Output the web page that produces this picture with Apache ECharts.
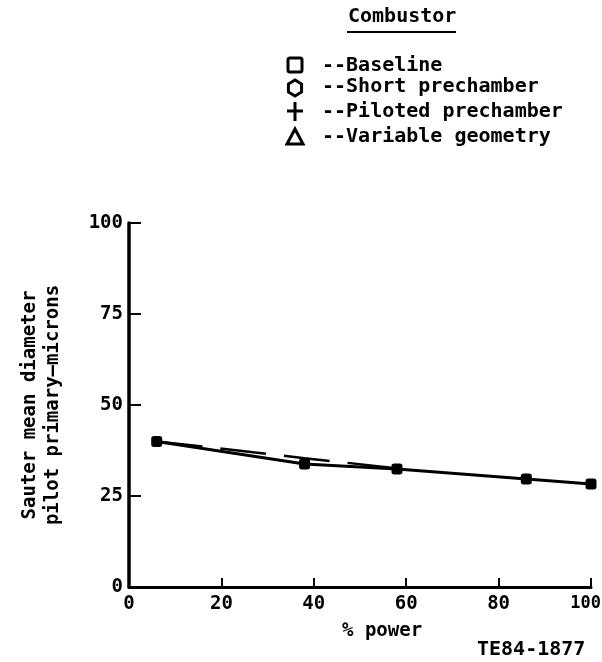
<!DOCTYPE html>
<html>
<head>
<meta charset="utf-8">
<script src="https://cdn.jsdelivr.net/npm/echarts@6/dist/echarts.min.js"></script>
<style>html,body{margin:0;padding:0;background:#fff}#c{width:602px;height:662px}</style>
</head>
<body>
<div id="c"></div>
<script>
// Data
var powerPct = [6, 38, 58, 86, 100];
var baselineSMD = [40, 33.8, 32.4, 29.7, 28.3];
var dashedPower = [6, 38, 58];
var dashedSMD = [40, 35.4, 32.6];
var xTicks = [0, 20, 40, 60, 80, 100];
var yTicks = [0, 25, 50, 75, 100];
var legendNames = ['Baseline', 'Short prechamber', 'Piloted prechamber', 'Variable geometry'];

var FONT = '"DejaVu Sans Mono", monospace';
var chart = echarts.init(document.getElementById('c'));

function pairs(xs, ys) { return xs.map(function (x, i) { return [x, ys[i]]; }); }

var legendRowsY = [68, 89, 114, 139];
var legendGraphics = [];
legendGraphics.push({type:'text', left: 348, top: 7, style:{text:'Combustor', font:'bold 20px ' + FONT, fill:'#000'}});
legendGraphics.push({type:'line', shape:{x1:347, y1:32, x2:456, y2:32}, style:{stroke:'#000', lineWidth:2}});
legendNames.forEach(function (n, i) {
  legendGraphics.push({type:'text', left: 322, top: legendRowsY[i] - 12, style:{text:'--' + n, font:'bold 20px ' + FONT, fill:'#000'}});
});
var cx = 295;
legendGraphics.push({type:'rect', shape:{x:cx-7, y:legendRowsY[0]-10, width:14, height:14, r:2}, style:{fill:'none', stroke:'#000', lineWidth:3}});
(function(){
  var cy = legendRowsY[1] - 1, r = 8, pts = [];
  for (var k = 0; k < 6; k++) { var a = Math.PI/2 + k*Math.PI/3; pts.push([cx + r*Math.cos(a)*0.95, cy + r*Math.sin(a)]); }
  legendGraphics.push({type:'polygon', shape:{points:pts}, style:{fill:'none', stroke:'#000', lineWidth:3}});
})();
legendGraphics.push({type:'line', shape:{x1:cx-8, y1:legendRowsY[2]-3, x2:cx+8, y2:legendRowsY[2]-3}, style:{stroke:'#000', lineWidth:3}});
legendGraphics.push({type:'line', shape:{x1:cx, y1:legendRowsY[2]-12, x2:cx, y2:legendRowsY[2]+7}, style:{stroke:'#000', lineWidth:3}});
legendGraphics.push({type:'polygon', shape:{points:[[cx, legendRowsY[3]-10],[cx+8, legendRowsY[3]+5],[cx-8, legendRowsY[3]+5]]}, style:{fill:'none', stroke:'#000', lineWidth:3}});
legendGraphics.push({type:'text', left: 342, top: 622, style:{text:'% power', font:'bold 19px ' + FONT, fill:'#000'}});
legendGraphics.push({type:'text', left: 477, top: 640, style:{text:'TE84-1877', font:'bold 20px ' + FONT, fill:'#000'}});

chart.setOption({
  backgroundColor: '#fff',
  animation: false,
  grid: {left: 129, right: 11, top: 223, bottom: 75, containLabel: false, outerBoundsMode: 'none'},
  xAxis: {
    type: 'value', min: 0, max: 100, interval: 20,
    axisLine: {show: true, lineStyle: {color: '#000', width: 3}},
    axisTick: {show: true, inside: true, length: 9, lineStyle: {color: '#000', width: 2}},
    splitLine: {show: false},
    alignMaxLabel: 'right',
    axisLabel: {color: '#000', fontFamily: FONT, fontWeight: 'bold', fontSize: 19, margin: 8,
      alignMaxLabel: 'right',
      formatter: function (v) {
        if (xTicks.indexOf(v) < 0) return '';
        return v === 100 ? '{m|' + v + '}' : String(v);
      },
      rich: {m: {fontFamily: FONT, fontWeight: 'bold', fontSize: 17, color: '#000', padding: [0, -10, 0, 0]}}
    }
  },
  yAxis: {
    type: 'value', min: 0, max: 100, interval: 25,
    name: 'Sauter mean diameter\npilot primary\u2014microns',
    nameLocation: 'middle', nameRotate: 90, nameGap: 64,
    nameTextStyle: {color: '#000', fontFamily: FONT, fontWeight: 'bold', fontSize: 19, lineHeight: 23},
    axisLine: {show: true, lineStyle: {color: '#000', width: 3.5}},
    axisTick: {show: true, inside: true, length: 12, lineStyle: {color: '#000', width: 2}},
    splitLine: {show: false},
    axisLabel: {color: '#000', fontFamily: FONT, fontWeight: 'bold', fontSize: 19, margin: 6,
      formatter: function (v) { return yTicks.indexOf(v) >= 0 ? String(v) : ''; }}
  },
  graphic: legendGraphics,
  series: [
    {
      name: 'Short prechamber', type: 'line', data: pairs(dashedPower, dashedSMD),
      showSymbol: false, symbol: 'none',
      lineStyle: {color: '#000', width: 2.5, type: [46, 18]}, z: 2
    },
    {
      name: 'Baseline', type: 'line', data: pairs(powerPct, baselineSMD),
      symbol: 'roundRect', symbolSize: 11,
      itemStyle: {color: '#000'},
      lineStyle: {color: '#000', width: 3}, z: 3
    }
  ]
});
</script>
</body>
</html>
